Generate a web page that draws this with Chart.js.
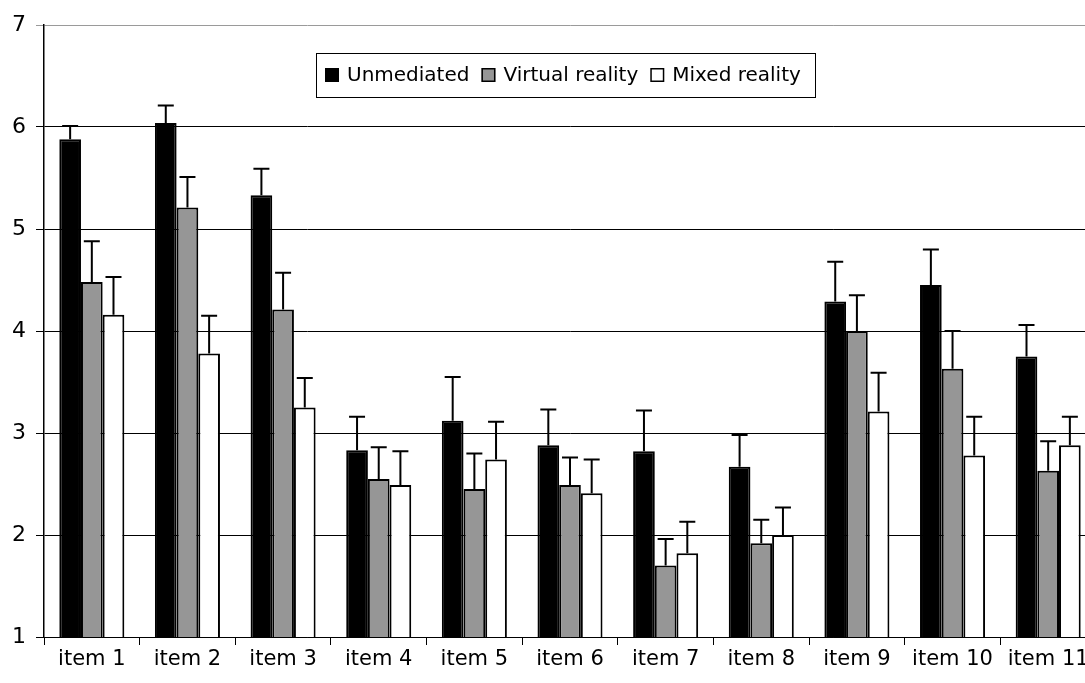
<!DOCTYPE html>
<html>
<head>
<meta charset="utf-8">
<script src="https://cdn.jsdelivr.net/npm/chart.js@4.4.1/dist/chart.umd.min.js"></script>
<style>
  html, body { margin: 0; padding: 0; background: #fff; overflow: hidden; }
  #wrap { position: relative; width: 1100px; height: 683px; }
</style>
</head>
<body>
<div id="wrap"><canvas id="chart"></canvas></div>
<script>
// ── data ──
const items = ['item 1', 'item 2', 'item 3', 'item 4', 'item 5', 'item 6',
               'item 7', 'item 8', 'item 9', 'item 10', 'item 11'];
const seriesNames = ['Unmediated', 'Virtual reality', 'Mixed reality'];

const unmediated = [5.88, 6.04, 5.33, 2.83, 3.12, 2.88, 2.82, 2.67, 4.29, 4.45, 3.75];
const virtualReality = [4.48, 5.21, 4.21, 2.55, 2.45, 2.49, 1.70, 1.92, 4.00, 3.63, 2.63];
const mixedReality = [4.16, 3.78, 3.25, 2.49, 2.74, 2.41, 1.82, 2.00, 3.21, 2.78, 2.88];

// upper error bar length
const unmediatedErr = [0.13, 0.17, 0.26, 0.33, 0.43, 0.35, 0.40, 0.31, 0.39, 0.35, 0.31];
const virtualErr = [0.40, 0.30, 0.36, 0.31, 0.35, 0.27, 0.26, 0.23, 0.35, 0.37, 0.29];
const mixedErr = [0.37, 0.37, 0.29, 0.33, 0.37, 0.33, 0.31, 0.27, 0.38, 0.38, 0.28];

const yTicks = [1, 2, 3, 4, 5, 6, 7];

const FONT = 'DejaVu Sans';

// draws the upward-only error bars with caps
const errorBars = {
  id: 'errorBars',
  afterDatasetsDraw(chart) {
    const { ctx, scales: { y } } = chart;
    ctx.save();
    ctx.strokeStyle = '#000';
    ctx.lineWidth = 2;
    chart.data.datasets.forEach((ds, i) => {
      const meta = chart.getDatasetMeta(i);
      meta.data.forEach((bar, j) => {
        const top = y.getPixelForValue(ds.data[j] + ds.err[j]);
        ctx.beginPath();
        ctx.moveTo(bar.x, bar.y);
        ctx.lineTo(bar.x, top);
        ctx.moveTo(bar.x - 8, top);
        ctx.lineTo(bar.x + 8, top);
        ctx.stroke();
      });
    });
    ctx.restore();
  }
};

// boxed legend sitting inside the plot area
const boxLegend = {
  id: 'boxLegend',
  afterDraw(chart) {
    const { ctx } = chart;
    const x0 = 316, y0 = 53, w = 499, h = 44;
    ctx.save();
    ctx.fillStyle = '#fff';
    ctx.fillRect(x0, y0, w, h);
    ctx.strokeStyle = '#000';
    ctx.lineWidth = 1;
    ctx.strokeRect(x0 + 0.5, y0 + 0.5, w, h);
    ctx.font = '20px "' + FONT + '"';
    ctx.textBaseline = 'middle';
    let x = x0 + 9;
    const cy = y0 + h / 2;
    chart.data.datasets.forEach(ds => {
      ctx.fillStyle = ds.backgroundColor;
      ctx.fillRect(x, cy - 7, 14, 14);
      ctx.strokeStyle = '#000';
      ctx.lineWidth = 1.5;
      ctx.strokeRect(x + 0.75, cy - 6.25, 12.5, 12.5);
      x += 22;
      ctx.fillStyle = '#000';
      ctx.fillText(ds.label, x, cy + 1);
      x += ctx.measureText(ds.label).width + 12;
    });
    ctx.restore();
  }
};

const values = [unmediated, virtualReality, mixedReality];
const errs = [unmediatedErr, virtualErr, mixedErr];
const fills = ['#000000', '#969696', '#ffffff'];

new Chart(document.getElementById('chart'), {
  type: 'bar',
  data: {
    labels: items,
    datasets: seriesNames.map((name, i) => ({
      label: name,
      data: values[i],
      err: errs[i],
      backgroundColor: fills[i],
      borderColor: '#000',
      borderWidth: 2,
      borderSkipped: 'bottom',
      categoryPercentage: 0.68,
      barPercentage: 1.0,
    })),
  },
  options: {
    responsive: true,
    maintainAspectRatio: false,
    animation: false,
    devicePixelRatio: 1,
    layout: { padding: { top: 25, right: 4, left: 0, bottom: 0 } },
    plugins: {
      legend: { display: false },
      tooltip: { enabled: false },
    },
    scales: {
      x: {
        grid: { offset: true, drawOnChartArea: false, drawTicks: true, tickLength: 8, color: '#000' },
        border: { color: '#000', width: 1 },
        ticks: { color: '#000', font: { family: FONT, size: 21 }, padding: 2, maxRotation: 0, autoSkip: false },
        afterFit: s => { s.height = 46; },
      },
      y: {
        min: 1,
        max: 7,
        afterBuildTicks: s => { s.ticks = yTicks.map(v => ({ value: v })); },
        grid: {
          color: c => (c.tick && c.tick.value === 7 ? '#9a9a9a' : '#000'),
          tickLength: 8,
          lineWidth: 1,
        },
        border: { color: '#000', width: 1.5 },
        ticks: { color: '#000', font: { family: FONT, size: 22 }, padding: 10 },
        afterFit: s => { s.width = 44; },
      },
    },
  },
  plugins: [errorBars, boxLegend],
});
</script>
</body>
</html>
